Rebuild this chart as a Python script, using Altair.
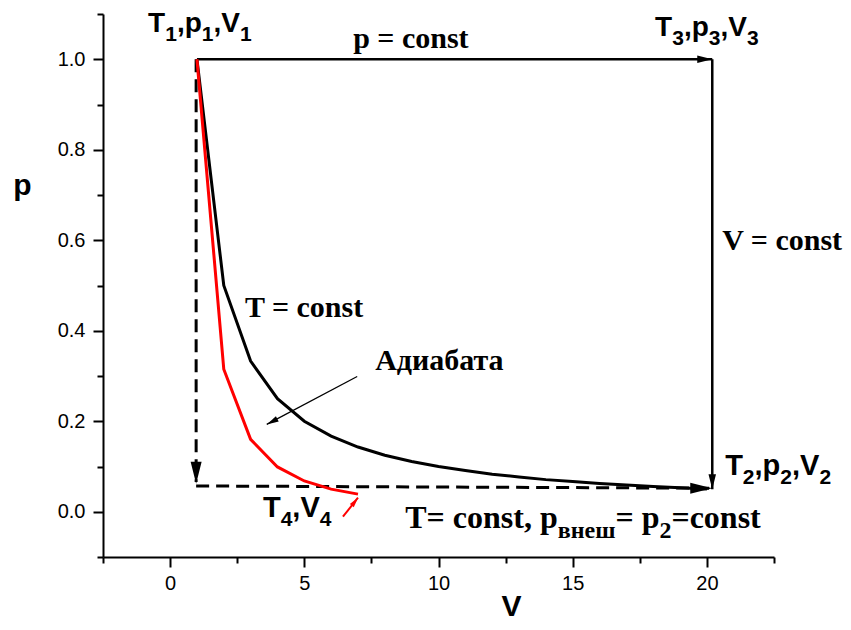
import altair as alt
import pandas as pd

# ---------------- data ----------------
V_iso = list(range(1, 21))
p_iso = [1.0, 0.5, 0.333, 0.25, 0.2, 0.167, 0.143, 0.125, 0.111, 0.1,
         0.091, 0.083, 0.077, 0.071, 0.067, 0.0625, 0.059, 0.056, 0.053, 0.05]
V_adi = [1, 2, 3, 4, 5, 6, 7]
p_adi = [1.0, 0.315, 0.160, 0.099, 0.068, 0.050, 0.039]

# process segments (start -> end)
seg_x = [1.0, 20.2, 0.97, 0.97]
seg_y = [1.0, 1.0, 1.0, 0.057]
seg_x2 = [20.2, 20.2, 0.97, 20.2]
seg_y2 = [1.0, 0.05, 0.066, 0.052]
seg_kind = ["solid", "solid", "dashed", "dashed"]

# pointer arrows (label -> curve)
ptr_x = [6.97, 6.44]
ptr_y = [0.299, -0.011]
ptr_x2 = [3.6, 7.0]
ptr_y2 = [0.193, 0.031]
ptr_color = ["black", "red"]

# arrow heads
head_x = [20.2, 20.2, 0.97, 20.2, 3.6, 7.0]
head_y = [1.0, 0.05, 0.062, 0.052, 0.193, 0.031]
head_angle = [90, 180, 180, 90, 242, 38]
head_color = ["black", "black", "black", "black", "black", "red"]
head_size = [225, 225, 484, 484, 144, 100]

# annotation labels: (text, is_subscript) parts
label_parts = [
    [("T", 0), ("1", 1), (",p", 0), ("1", 1), (",V", 0), ("1", 1)],
    [("T", 0), ("3", 1), (",p", 0), ("3", 1), (",V", 0), ("3", 1)],
    [("T", 0), ("2", 1), (",p", 0), ("2", 1), (",V", 0), ("2", 1)],
    [("T", 0), ("4", 1), (",V", 0), ("4", 1)],
    [("p = const", 0)],
    [("V = const", 0)],
    [("T = const", 0)],
    [("Адиабата", 0)],
    [("T= const, p", 0), ("внеш", 1), ("= p", 0), ("2", 1), ("=const", 0)],
]
label_x = [-0.82, 18.07, 20.68, 3.46, 6.82, 20.57, 2.79, 7.64, 8.76]
label_y = [1.060, 1.052, 0.081, -0.012, 1.025, 0.578, 0.430, 0.313, -0.036]
label_family = ["sans", "sans", "sans", "sans", "serif", "serif", "serif", "serif", "serif"]
label_size = [(28, 21), (28, 21), (29, 21), (29, 21), (30, 22), (30, 22), (30, 22), (30, 22), (32, 24)]

x_ticks = [-2.5, 0, 2.5, 5, 7.5, 10, 12.5, 15, 17.5, 20, 22.5]
y_ticks = [-0.1, 0.0, 0.1, 0.2, 0.3, 0.4, 0.5, 0.6, 0.7, 0.8, 0.9, 1.0, 1.1]

# ---------------- styling ----------------
SANS = "Liberation Sans"
SERIF = "Liberation Serif"
W, H = 671, 543

xscale = alt.Scale(domain=[-2.5, 22.5], nice=False, zero=False)
yscale = alt.Scale(domain=[-0.1, 1.1], nice=False, zero=False)

xaxis = alt.Axis(
    title="V", values=x_ticks, labelExpr="datum.value % 5 === 0 ? datum.label : ''",
    tickSize={"condition": {"test": "datum.value % 5 === 0", "value": 10}, "value": 6},
    labelPadding=6, titleX=408, titleY=58, titleBaseline="alphabetic", titleAlign="center",
    labelOverlap=False, labelFlush=False,
)
yaxis = alt.Axis(
    title="p", values=y_ticks,
    labelExpr="(round(datum.value*10) % 2 === 0 && datum.value > -0.05) ? format(datum.value, '.1f') : ''",
    tickSize={"condition": {"test": "round(datum.value*10) % 2 === 0", "value": 10}, "value": 6},
    labelPadding=8, titleAngle=0, titleX=-81, titleY=180, titleBaseline="alphabetic",
    titleAlign="center", labelOverlap=False, labelFlush=False,
)
X = alt.X("x:Q", scale=xscale, axis=xaxis)
Y = alt.Y("y:Q", scale=yscale, axis=yaxis)

iso = alt.Chart(pd.DataFrame({"x": V_iso, "y": p_iso})).mark_line(
    color="black", strokeWidth=3).encode(x=X, y=Y)
adi = alt.Chart(pd.DataFrame({"x": V_adi, "y": p_adi})).mark_line(
    color="red", strokeWidth=3).encode(x=X, y=Y)

seg_df = pd.DataFrame({"x": seg_x, "y": seg_y, "x2": seg_x2, "y2": seg_y2, "k": seg_kind})
solid = alt.Chart(seg_df).transform_filter("datum.k == 'solid'").mark_rule(
    color="black", strokeWidth=2.5).encode(x=X, y=Y, x2="x2:Q", y2="y2:Q")
dashed = alt.Chart(seg_df).transform_filter("datum.k == 'dashed'").mark_rule(
    color="black", strokeWidth=3, strokeDash=[13, 7]).encode(x=X, y=Y, x2="x2:Q", y2="y2:Q")

ptr_df = pd.DataFrame({"x": ptr_x, "y": ptr_y, "x2": ptr_x2, "y2": ptr_y2, "c": ptr_color})
ptr_black = alt.Chart(ptr_df).transform_filter("datum.c == 'black'").mark_rule(
    color="black", strokeWidth=1.3).encode(x=X, y=Y, x2="x2:Q", y2="y2:Q")
ptr_red = alt.Chart(ptr_df).transform_filter("datum.c == 'red'").mark_rule(
    color="red", strokeWidth=2).encode(x=X, y=Y, x2="x2:Q", y2="y2:Q")

head_df = pd.DataFrame({"x": head_x, "y": head_y, "a": head_angle, "c": head_color, "s": head_size})
heads = alt.Chart(head_df).mark_point(
    shape="M0,0L-0.5,2L0.5,2Z", filled=True, opacity=1, strokeWidth=0).encode(
    x=X, y=Y,
    angle=alt.Angle("a:Q", scale=None),
    color=alt.Color("c:N", scale=None),
    size=alt.Size("s:Q", scale=None),
)

# width tables (em) for positioning parts of labels
SANS_W = {"T": .611, "p": .611, "V": .667, ",": .278}
SERIF_W = {"T": .667, "V": .722, "=": .570, " ": .25, "c": .444, "o": .5, "n": .556, "s": .389,
           "t": .333, ",": .25, "p": .556, "2": .5, "в": .54, "н": .58, "е": .444, "ш": .84}


def text_width(s, fam, size):
    table = SANS_W if fam == "sans" else SERIF_W
    return sum(table.get(ch, .556) for ch in s) * size


text_layers = []
for parts, lx, ly, fam, (main, sub) in zip(label_parts, label_x, label_y, label_family, label_size):
    font = SANS if fam == "sans" else SERIF
    sub_dy = 9 if fam == "sans" else 10
    off = 0.0
    for txt, is_sub in parts:
        size = sub if is_sub else main
        layer = alt.Chart(pd.DataFrame({"x": [lx], "y": [ly], "t": [txt]})).mark_text(
            align="left", baseline="alphabetic", font=font, fontSize=size, fontWeight="bold",
            color="black", dx=off, dy=sub_dy if is_sub else 0,
        ).encode(x=X, y=Y, text="t:N")
        text_layers.append(layer)
        off += text_width(txt, fam, size)

chart = alt.layer(dashed, solid, iso, adi, ptr_black, ptr_red, heads, *text_layers).properties(
    width=W, height=H,
    autosize=alt.AutoSizeParams(type="none"),
    padding={"left": 95, "top": 6, "right": 69, "bottom": 65},
).configure_view(stroke=None).configure_axis(
    domainColor="black", domainWidth=2, tickColor="black", tickWidth=2, grid=False,
    labelFont=SANS, labelFontSize=20, labelColor="black",
    titleFont=SANS, titleFontSize=30, titleFontWeight="bold", titleColor="black",
)

chart.save("out.html", embed_options={"renderer": "svg", "actions": False})
